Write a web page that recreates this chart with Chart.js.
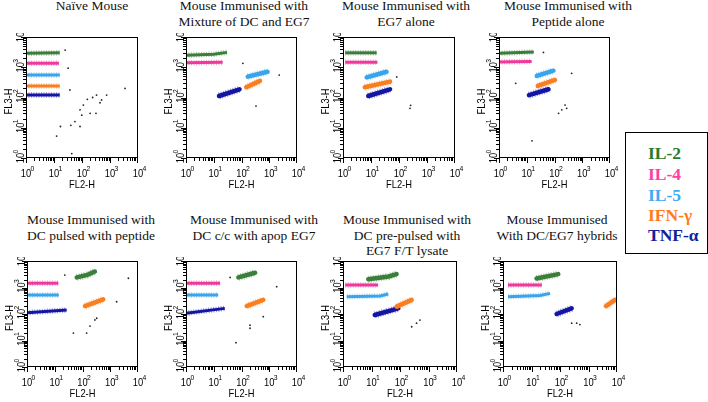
<!DOCTYPE html>
<html>
<head>
<meta charset="utf-8">
<script src="https://cdn.jsdelivr.net/npm/chart.js@4.4.1/dist/chart.umd.min.js"></script>
<style>
  body { margin: 0; width: 708px; height: 402px; background: #fff; position: relative; overflow: hidden; }
  canvas { position: absolute; }
  .title {
    position: absolute; transform: translateX(-50%); white-space: nowrap; text-align: center;
    font-family: 'Liberation Serif', 'Times New Roman', serif; font-size: 13.5px; line-height: 15.5px; color: #111;
  }
  #legend {
    position: absolute; left: 625px; top: 132px; width: 83px; height: 122px;
    border: 1.5px solid #000; box-sizing: border-box; background: #fff;
  }
  #legend div {
    position: absolute; left: 22px; white-space: nowrap;
    font-family: 'Liberation Serif', 'Times New Roman', serif; font-weight: bold; font-size: 17.5px; line-height: 18px;
  }
</style>
</head>
<body>
<div id="legend"></div>
<script>
// Panel titles
const panelTitles = [
  ['Naïve Mouse'],
  ['Mouse Immunised with', 'Mixture of DC and EG7'],
  ['Mouse Immunised with', 'EG7 alone'],
  ['Mouse Immunised with', 'Peptide alone'],
  ['Mouse Immunised with', 'DC pulsed with peptide'],
  ['Mouse Immunised with', 'DC c/c with apop EG7'],
  ['Mouse Immunised with', 'DC pre-pulsed with', 'EG7 F/T lysate'],
  ['Mouse Immunised', 'With DC/EG7 hybrids']
];

const cytokines = ['IL-2', 'IL-4', 'IL-5', 'IFN-γ', 'TNF-α'];
const tickValues = [1, 10, 100, 1000, 10000];
const tickExponents = ['0', '1', '2', '3', '4'];

// populations per panel, [FL2-H, FL3-H] along each cluster
const il2 = [
  [[1, 2900], [16, 3000]],
  [[1, 2500], [10, 2700], [30, 3100]],
  [[1.2, 3000], [16, 3000]],
  [[1, 2900], [18, 3200]],
  [[62, 2400], [150, 3000], [280, 4000]],
  [[77, 2400], [310, 3600]],
  [[7.7, 2050], [40, 2600], [76, 3200]],
  [[15, 2200], [87, 3200]]
];
const il4 = [
  [[1, 1350], [15, 1350]],
  [[1, 1400], [21, 1450]],
  [[1.2, 1450], [17, 1450]],
  [[1, 1500], [15, 1550]],
  [[1, 1450], [13.5, 1450]],
  [[1, 1450], [17, 1450]],
  [[1.2, 1250], [17, 1250]],
  [[1.5, 1250], [23, 1250]]
];
const il5 = [
  [[1, 550], [16, 550]],
  [[168, 490], [870, 710]],
  [[7, 465], [36, 710]],
  [[23, 515], [92, 770]],
  [[1, 520], [14, 520]],
  [[1, 520], [14.5, 520]],
  [[1.35, 450], [20, 480], [39, 570]],
  [[1.5, 450], [20, 500], [45, 600]]
];
const ifng = [
  [[1, 240], [16, 240]],
  [[148, 218], [465, 355]],
  [[6, 218], [48, 335]],
  [[25, 240], [105, 380]],
  [[123, 200], [560, 355]],
  [[154, 200], [610, 340]],
  [[76, 190], [257, 340]],
  [[4100, 200], [8500, 340]]
];
const tnfa = [
  [[1, 120], [16, 120]],
  [[15.5, 112], [85, 187]],
  [[8, 112], [48, 187]],
  [[12, 120], [61, 187]],
  [[1, 112], [27, 141]],
  [[1, 107], [25, 163]],
  [[13, 92], [87, 163]],
  [[76, 100], [257, 163]]
];
// ungated events (black dots)
const otherEvents = [
  [[12.4, 5.3], [17, 11], [43, 1.4], [40, 12], [56, 16], [85, 11], [98, 26], [85, 39], [112, 56], [155, 87],
   [195, 30], [240, 100], [330, 120], [316, 30], [440, 67], [500, 83], [760, 120], [3450, 200], [37, 178], [25, 3700], [32, 930]],
  [[333, 52], [112, 1350], [2290, 550]],
  [[247, 44], [260, 55], [83, 480]],
  [[140, 30], [183, 39], [240, 56], [275, 44], [15.5, 3.7], [40, 3100], [415, 630], [4, 295]],
  [[325, 69], [186, 35], [141, 19], [47, 19], [23, 2950], [4500, 2230], [1700, 290], [280, 60]],
  [[203, 38], [203, 29], [63, 8.3], [39, 2400], [1850, 1070], [610, 79]],
  [[257, 33], [380, 45], [500, 59]],
  [[257, 45], [385, 45], [500, 40]]
];

// layout (page pixels)
const cytokineColors = ['#3b7f3b', '#ee3a9c', '#3aa4ec', '#f97f22', '#1515a5'];
const legendColors = ['#2a7a2a', '#ff3ea0', '#45a8f5', '#ff7c1a', '#10229a'];
const panelBoxes = [
  { left: 26, top: 37, w: 112, h: 121, tx: 92, ty: -2 },
  { left: 186, top: 37, w: 111, h: 121, tx: 244, ty: -2 },
  { left: 343, top: 37, w: 112, h: 121, tx: 406, ty: -2 },
  { left: 499, top: 37, w: 111, h: 121, tx: 568, ty: -2 },
  { left: 27, top: 261, w: 111, h: 106, tx: 91, ty: 212 },
  { left: 186, top: 261, w: 111, h: 106, tx: 254, ty: 212 },
  { left: 343, top: 261, w: 114, h: 106, tx: 407, ty: 212 },
  { left: 503, top: 261, w: 114, h: 106, tx: 557, ty: 212 }
];

const PAD = { left: 30, top: 4, right: 14, bottom: 36 };
const labelFont = "'Liberation Sans Narrow', 'Arial Narrow', Arial, sans-serif";

function narrowText(ctx, text, x, y, size, align) {
  ctx.save();
  ctx.translate(x, y);
  ctx.scale(0.85, 1);
  ctx.font = size + 'px ' + labelFont;
  ctx.textAlign = align;
  ctx.fillText(text, 0, 0);
  ctx.restore();
}

// frame, log ticks and labels drawn from the chart's own scales
const flowAxes = {
  id: 'flowAxes',
  afterDatasetsDraw(chart) {
    const { ctx, chartArea: a, scales: { x, y } } = chart;
    ctx.save();
    ctx.strokeStyle = '#000';
    ctx.fillStyle = '#000';
    ctx.lineWidth = 1;
    ctx.strokeRect(a.left + 0.5, a.top + 0.5, a.right - a.left - 1, a.bottom - a.top - 1);

    ctx.beginPath();
    for (let d = 0; d < 4; d++) {
      for (let m = 1; m < 10; m++) {
        const v = m * Math.pow(10, d);
        const len = m === 1 ? 5 : 3;
        const px = Math.round(x.getPixelForValue(v)) + 0.5;
        ctx.moveTo(px, a.bottom);
        ctx.lineTo(px, a.bottom + len);
        const py = Math.round(y.getPixelForValue(v)) + 0.5;
        ctx.moveTo(a.left, py);
        ctx.lineTo(a.left - len, py);
      }
    }
    const pxEnd = Math.round(x.getPixelForValue(10000)) - 0.5;
    ctx.moveTo(pxEnd, a.bottom); ctx.lineTo(pxEnd, a.bottom + 5);
    const pyEnd = Math.round(y.getPixelForValue(10000)) + 0.5;
    ctx.moveTo(a.left, pyEnd); ctx.lineTo(a.left - 5, pyEnd);
    ctx.stroke();

    tickValues.forEach((v, i) => {
      // x labels
      const px = x.getPixelForValue(v);
      narrowText(ctx, '10', px, a.bottom + 19, 11, 'center');
      narrowText(ctx, tickExponents[i], px + 4.5, a.bottom + 13, 8, 'left');
      // y labels, rotated
      const py = y.getPixelForValue(v);
      ctx.save();
      ctx.translate(a.left - 2, py);
      ctx.rotate(-Math.PI / 2);
      narrowText(ctx, '10', 0, 0, 11, 'center');
      narrowText(ctx, tickExponents[i], 4.5, -6, 8, 'left');
      ctx.restore();
    });

    narrowText(ctx, 'FL2-H', (a.left + a.right) / 2, a.bottom + 30, 11, 'center');
    ctx.save();
    ctx.translate(a.left - 14, (a.top + a.bottom) / 2 + 4);
    ctx.rotate(-Math.PI / 2);
    narrowText(ctx, 'FL3-H', 0, 0, 11, 'center');
    ctx.restore();
    ctx.restore();
  }
};

function fade(hex, alpha) {
  const n = parseInt(hex.slice(1), 16);
  return `rgba(${n >> 16}, ${(n >> 8) & 255}, ${n & 255}, ${alpha})`;
}

const populations = [il2, il4, il5, ifng, tnfa];

panelTitles.forEach((lines, i) => {
  const p = panelBoxes[i];

  const t = document.createElement('div');
  t.className = 'title';
  t.style.left = p.tx + 'px';
  t.style.top = p.ty + 'px';
  t.innerHTML = lines.join('<br>');
  document.body.appendChild(t);

  const canvas = document.createElement('canvas');
  canvas.width = p.w + PAD.left + PAD.right;
  canvas.height = p.h + PAD.top + PAD.bottom;
  canvas.style.left = (p.left - PAD.left) + 'px';
  canvas.style.top = (p.top - PAD.top) + 'px';
  document.body.appendChild(canvas);

  const datasets = [];
  populations.forEach((series, k) => {
    const pts = series[i].map(([x, y]) => ({ x, y }));
    const blob = series[i][0][0] > 2;
    // speckled fringe around the dense core
    datasets.push({
      type: 'line', data: pts, borderColor: fade(cytokineColors[k], 0.45),
      borderWidth: blob ? 7 : 5.5, borderDash: [1, 1.5], pointRadius: 0, tension: 0
    });
    datasets.push({
      type: 'line', data: pts, borderColor: cytokineColors[k],
      borderWidth: blob ? 4.5 : 3, pointRadius: 0, tension: 0,
      borderCapStyle: blob ? 'round' : 'butt'
    });
  });
  datasets.push({
    type: 'scatter', data: otherEvents[i].map(([x, y]) => ({ x, y })),
    pointRadius: 0.9, backgroundColor: '#222', borderWidth: 0
  });

  new Chart(canvas, {
    type: 'scatter',
    data: { datasets },
    options: {
      responsive: false,
      animation: false,
      events: [],
      layout: { padding: PAD },
      plugins: { legend: { display: false }, tooltip: { enabled: false } },
      scales: {
        x: { type: 'logarithmic', min: 1, max: 10000, display: false },
        y: { type: 'logarithmic', min: 1, max: 10000, display: false }
      }
    },
    plugins: [flowAxes]
  });
});

// legend box
const legendTops = [11, 32, 53, 73, 93];
const legend = document.getElementById('legend');
cytokines.forEach((name, k) => {
  const d = document.createElement('div');
  d.textContent = name;
  d.style.color = legendColors[k];
  d.style.top = legendTops[k] + 'px';
  legend.appendChild(d);
});
</script>
</body>
</html>
